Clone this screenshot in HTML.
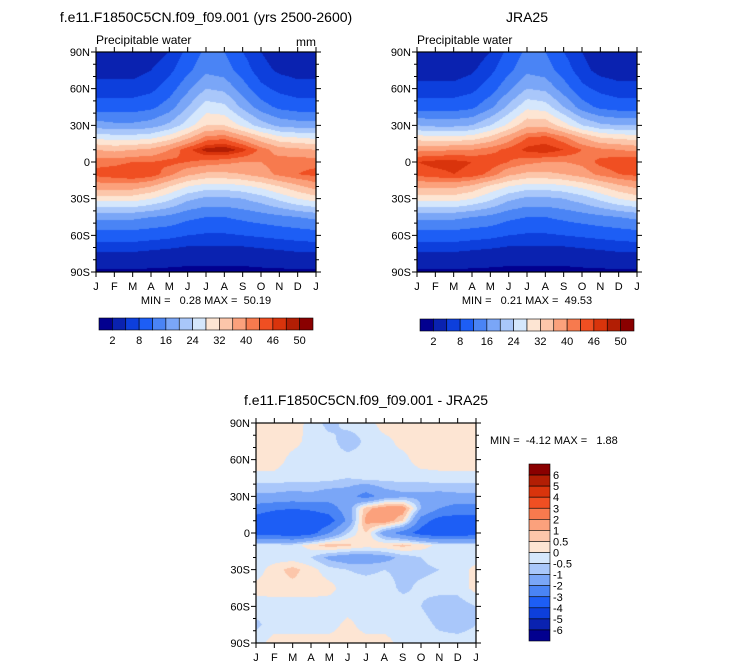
<!DOCTYPE html>
<html><head><meta charset="utf-8"><style>
body{margin:0;background:#fff;font-family:"Liberation Sans",sans-serif;}
#root{position:relative;width:733px;height:670px;overflow:hidden;}
canvas{position:absolute;}
svg{position:absolute;left:0;top:0;}
svg text{white-space:pre;}
</style></head><body>
<div id="root">
<canvas id="c1" width="220" height="220" style="left:96px;top:52px"></canvas>
<canvas id="c2" width="220" height="220" style="left:417px;top:52px"></canvas>
<canvas id="c3" width="220" height="220" style="left:256px;top:423px"></canvas>
<svg id="s" width="733" height="670" font-family="Liberation Sans, sans-serif"></svg>
</div>
<script>
const months=["J","F","M","A","M","J","J","A","S","O","N","D","J"];
const lats=[90,75,60,45,30,20,10,0,-10,-20,-30,-45,-60,-75,-90];
const latTicks=["90N","60N","30N","0","30S","60S","90S"];
const palette=["#02008f","#0a22b0","#0d3fdc","#1d5ef5","#4a84f5","#7aa6f7","#a9c7fa","#d5e7fc","#fde5d3","#fcc6aa","#fba17c","#f77a4e","#f04f22","#d9340c","#b21e04","#8a0000"];
const levelsPW=[2,5,8,12,16,20,24,28,32,36,40,43,46,48,50];
const labelsPW=["2","8","16","24","32","40","46","50"];
const levelsDiff=[-6,-5,-4,-3,-2,-1,-0.5,0,0.5,1,2,3,4,5,6];
const labelsDiff=["6","5","4","3","2","1","0.5","0","-0.5","-1","-2","-3","-4","-5","-6"];
const model=[
[3,3,3,3.5,5,9,13,12,8,5,3.5,3,3],
[4,4,4,5,7,11,15,14,10,6,4.5,4,4],
[6,6,6,7,10,15,20,19,14,9,7,6,6],
[10,10,10,11,14,20,26,25,19,14,11,10,10],
[18,17,17,18,21,26,32,32,27,22,19,18,18],
[27,26,26,27,30,35,41,42,38,33,29,28,27],
[36,35,36,37,40,45,49,50,47,42,38,37,36],
[42,42,43,43,44,43,42,41,40,40,42,42,42],
[44,45,46,45,41,37,35,35,36,38,41,43,44],
[38,38,38,36,32,28,26,26,27,29,32,35,38],
[30,30,30,28,25,21,19,19,20,22,25,28,30],
[17,17,17,16,15,13,12,12,13,14,15,16,17],
[10,10,10,9.5,9,8,7.5,7.5,8,8.5,9,9.5,10],
[4.5,4.5,4.5,4,3.5,3,3,3,3,3.5,4,4.5,4.5],
[1.5,1.5,1.5,1.5,1.5,1.5,1.5,1.5,1.5,1.5,1.5,1.5,1.5]];
const jra=[
[2.5,2.5,2.5,3,5,9,13,12,8,5,3,2.5,2.5],
[3.5,3.5,3.5,4.5,7,11,15,14,10,6,4,3.5,3.5],
[6,6,6,7,10,15,20,19,14,9,7,6,6],
[10,10,10,11,15,21,27,26,20,14,11,10,10],
[20,19,19,20,24,29,35,35,30,24,21,20,20],
[30,29,29,30,33,38,43,44,41,36,32,31,30],
[39,39,40,40,42,44,47,48,46,43,41,40,39],
[46,47,47,46,45,43,41,40,40,41,44,45,46],
[44,45,46,45,42,37,35,35,36,38,41,43,44],
[37,37,37,35,31,28,26,26,27,29,32,35,37],
[30,30,30,28,25,21,19,19,20,22,25,28,30],
[17,17,17,16,15,13,12,12,13,14,15,16,17],
[10,10,10,9.5,9,8,7.5,7.5,8,8.5,9,9.5,10],
[4.5,4.5,4.5,4,3.5,3,3,3,3,3.5,4,4.5,4.5],
[1.5,1.5,1.5,1.5,1.5,1.5,1.5,1.5,1.5,1.5,1.5,1.5,1.5]];
const diff=[
[0.3,0.3,0.3,-0.2,-0.7,-0.3,-0.3,0.3,0.3,0.3,0.3,0.3,0.3],
[0.3,0.3,0.2,-0.2,-0.3,-0.8,-0.4,-0.2,0.2,0.3,0.3,0.3,0.3],
[0.3,0.3,-0.2,-0.3,-0.3,-0.3,-0.3,-0.2,-0.2,0.3,0.3,0.3,0.3],
[-0.2,-0.2,-0.3,-0.3,-0.3,-0.5,-0.3,-0.3,-0.3,-0.3,-0.2,-0.2,-0.2],
[-1.2,-1.2,-1.3,-1.2,-1.5,-1.5,-2.5,-1.5,-1.2,-1.2,-1.3,-1.2,-1.2],
[-2.5,-2.8,-3,-2.8,-2.5,-1.5,0.8,1.5,1.5,-1,-2,-2.5,-2.5],
[-3.5,-4,-4,-4,-3.5,-1.8,1.2,1.5,0.5,-2.5,-3.5,-3.5,-3.5],
[-3.5,-3.5,-4,-3.5,-2,-0.5,0.5,-1.5,-2.5,-3.5,-4,-4,-3.5],
[-0.3,-0.3,-0.3,0.3,0.8,0.6,0.3,0.4,0.7,0.3,-0.2,-0.2,-0.3],
[-0.3,-0.3,-0.3,-0.5,-1.2,-1.5,-1.5,-1.3,-0.8,-0.5,-0.3,-0.2,-0.3],
[-0.3,0.3,0.7,0.2,-0.3,-0.5,-0.6,-0.5,-0.6,-0.6,-0.5,-0.3,0.2],
[0.2,0.3,0.3,0.3,0.2,-0.3,-0.3,-0.3,-0.6,-0.4,-0.3,-0.3,0.2],
[-0.3,-0.3,-0.3,-0.3,-0.3,-0.3,-0.3,-0.3,-0.3,-0.5,-0.8,-0.8,-0.5],
[-0.6,-0.3,-0.3,-0.3,-0.3,0.2,-0.3,-0.3,-0.3,-0.3,-0.6,-0.7,-0.5],
[-0.3,0.3,0.3,0.3,0.3,0.3,0.3,0.3,-0.3,-0.3,-0.3,-0.3,-0.3]];

function colorFor(v,levels){let i=0;while(i<levels.length&&v>=levels[i])i++;return palette[i];}
function hex(c){return [parseInt(c.substr(1,2),16),parseInt(c.substr(3,2),16),parseInt(c.substr(5,2),16)];}
function sample(grid,mx,lat){
  let r=0;while(r<lats.length-2&&lat<lats[r+1])r++;
  const t=(lats[r]-lat)/(lats[r]-lats[r+1]);
  let c=Math.min(11,Math.floor(mx));const u=mx-c;
  const a=grid[r][c],b=grid[r][c+1],d=grid[r+1][c],e=grid[r+1][c+1];
  return (a*(1-u)+b*u)*(1-t)+(d*(1-u)+e*u)*t;
}
function drawField(id,grid,levels){
  const cv=document.getElementById(id),ctx=cv.getContext('2d'),W=220,H=220;
  const img=ctx.createImageData(W,H);
  for(let y=0;y<H;y++)for(let x=0;x<W;x++){
    const v=sample(grid,(x+0.5)/W*12,90-(y+0.5)/H*180);
    const c=hex(colorFor(v,levels));const k=(y*W+x)*4;
    img.data[k]=c[0];img.data[k+1]=c[1];img.data[k+2]=c[2];img.data[k+3]=255;}
  ctx.putImageData(img,0,0);
}
drawField('c1',model,levelsPW);drawField('c2',jra,levelsPW);drawField('c3',diff,levelsDiff);

const S=document.getElementById('s'),NS='http://www.w3.org/2000/svg';
function el(tag,attrs,txt){const e=document.createElementNS(NS,tag);for(const k in attrs)e.setAttribute(k,attrs[k]);if(txt!==undefined)e.textContent=txt;S.appendChild(e);return e;}
function text(x,y,t,size,anchor,name){const e=el('text',{x:x,y:y,'font-size':size,'text-anchor':anchor||'start',fill:'#000'},t);

return e;}
function axes(x0,y0,w,h,pre){
  const r=el('rect',{x:x0,y:y0,width:w,height:h,fill:'none',stroke:'#000','stroke-width':1.2});
  
  
  const xs=v=>x0+v/12*w, ys=lat=>y0+(90-lat)/180*h;
  let p='';
  months.forEach((m,i)=>{const X=xs(i);p+=`M${X},${y0+h}v5M${X},${y0}v-5`;
    text(X,y0+h+18,m,11,'middle',pre+'-x-tick-label');});
  for(let lat=90;lat>=-90;lat-=10){const Y=ys(lat);const L=lat%30==0?5:3;p+=`M${x0},${Y}h-${L}M${x0+w},${Y}h${L}`;}
  latTicks.forEach((t,i)=>text(x0-6,ys(90-30*i)+4,t,11,'end',pre+'-y-tick-label'));
  const pa=el('path',{d:p,stroke:'#000','stroke-width':1,fill:'none'});
  
  
}
function hbar(x0,y0,w,h,levels,labels,pre){
  const n=palette.length,bw=w/n;
  palette.forEach((c,i)=>{const r=el('rect',{x:x0+i*bw,y:y0,width:bw,height:h,fill:c,stroke:'#000','stroke-width':0.6});
    
    });
  labels.forEach((l,i)=>text(x0+(2*i+1)*bw,y0+h+14,l,11,'middle',pre+'-colorbar-label'));
}
function vbar(x0,y0,w,h,labels){
  const n=palette.length,bh=h/n;
  palette.slice().reverse().forEach((c,i)=>{const r=el('rect',{x:x0,y:y0+i*bh,width:w,height:bh,fill:c,stroke:'#000','stroke-width':0.6});
    
    });
  labels.forEach((l,i)=>text(x0+w+3,y0+(i+1)*bh+4,l,11,'start','diff-colorbar-label'));
}
axes(96,52,220,220,'model');axes(417,52,220,220,'jra');axes(256,423,220,220,'diff');
text(206,22,'f.e11.F1850C5CN.f09_f09.001 (yrs 2500-2600)',14,'middle','model-title');
text(527,22,'JRA25',14,'middle','jra-title');
text(96,44,'Precipitable water',12,'start','model-subtitle');
text(316,46,'mm',12,'end','model-units');
text(417,44,'Precipitable water',12,'start','jra-subtitle');
text(206,304,'MIN =   0.28 MAX =  50.19',11,'middle','model-min-max');
text(527,304,'MIN =   0.21 MAX =  49.53',11,'middle','jra-min-max');
hbar(99,318,214,12,levelsPW,labelsPW,'model');
hbar(420,319,214,12,levelsPW,labelsPW,'jra');
text(366,405,'f.e11.F1850C5CN.f09_f09.001 - JRA25',14,'middle','diff-title');
text(490,444,'MIN =  -4.12 MAX =   1.88',11,'start','diff-min-max');
vbar(529,464,21,177,labelsDiff);
</script>
</body></html>
